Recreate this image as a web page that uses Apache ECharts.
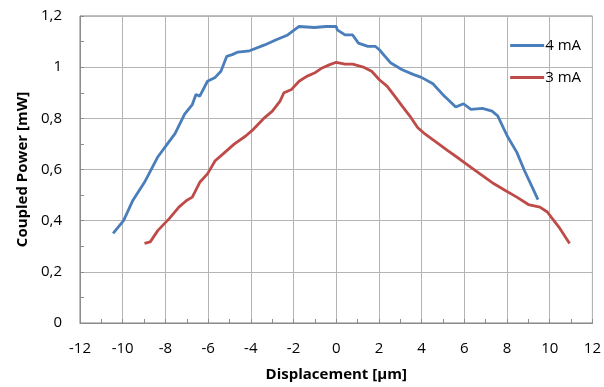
<!DOCTYPE html>
<html><head><meta charset="utf-8">
<script src="https://cdn.jsdelivr.net/npm/echarts@6/dist/echarts.min.js"></script>
<style>html,body{margin:0;padding:0;background:#fff}#c{width:604px;height:387px}</style>
</head><body><div id="c"></div>
<script>
const seriesNames = ["4 mA", "3 mA"];
const blueX = [-10.45,-9.96,-9.52,-8.98,-8.35,-7.82,-7.55,-7.1,-6.74,-6.57,-6.39,-6.03,-5.67,-5.4,-5.13,-4.87,-4.6,-4.06,-3.35,-2.81,-2.27,-1.74,-1.02,-0.48,0,0.05,0.41,0.77,1.04,1.48,1.84,2.02,2.56,3.09,3.63,3.99,4.53,5.06,5.6,5.96,6.31,6.85,7.3,7.57,8.01,8.46,8.82,9.18,9.45];
const blueY = [0.35,0.40,0.48,0.55,0.65,0.71,0.74,0.816,0.854,0.893,0.887,0.945,0.96,0.984,1.042,1.049,1.059,1.064,1.087,1.107,1.126,1.159,1.155,1.159,1.159,1.146,1.126,1.126,1.094,1.081,1.081,1.068,1.016,0.99,0.971,0.96,0.935,0.887,0.844,0.857,0.835,0.839,0.828,0.809,0.731,0.667,0.595,0.531,0.482];
const redX = [-8.98,-8.71,-8.35,-7.82,-7.37,-7.01,-6.74,-6.39,-6.03,-5.67,-5.31,-4.78,-4.24,-3.88,-3.35,-2.99,-2.63,-2.45,-2.09,-1.74,-1.38,-1.02,-0.66,-0.3,0,0.41,0.77,1.31,1.66,2.02,2.38,2.74,3.09,3.45,3.81,4.17,4.7,5.24,5.78,6.31,6.85,7.39,7.92,8.46,9.0,9.54,9.89,10.07,10.43,10.93];
const redY = [0.311,0.317,0.362,0.408,0.453,0.479,0.492,0.55,0.583,0.634,0.66,0.699,0.731,0.757,0.803,0.828,0.867,0.9,0.913,0.945,0.964,0.977,0.997,1.01,1.019,1.012,1.012,0.999,0.984,0.951,0.926,0.887,0.848,0.809,0.764,0.738,0.706,0.673,0.641,0.608,0.576,0.544,0.518,0.492,0.463,0.453,0.434,0.414,0.375,0.311];
const xTitle = "Displacement [µm]";
const yTitle = "Coupled Power [mW]";

const zip = (xs, ys) => xs.map((x, i) => [x, ys[i]]);
const chart = echarts.init(document.getElementById('c'), null, {renderer: 'canvas'});
const font = "'Open Sans', 'Liberation Sans', sans-serif";
chart.setOption({
  animation: false,
  backgroundColor: '#fff',
  grid: {left: 80, right: 8, top: 16, bottom: 64, show: true, borderColor: '#808080', borderWidth: 1},
  legend: {
    orient: 'vertical', right: 18, top: 33, itemWidth: 34, itemHeight: 3, itemGap: 17,
    icon: 'rect',
    textStyle: {fontFamily: font, fontSize: 15, color: '#000', padding: [0, 0, 0, -4]},
    data: seriesNames
  },
  xAxis: {
    type: 'value', min: -12, max: 12, interval: 2,
    name: xTitle, nameLocation: 'middle', nameGap: 44,
    nameTextStyle: {fontFamily: font, fontSize: 15, fontWeight: 'bold', color: '#000'},
    axisLine: {onZero: false, lineStyle: {color: '#8c8c8c'}},
    axisTick: {show: true, inside: true, length: 4, lineStyle: {color: '#8c8c8c'}},
    minorTick: {show: true, splitNumber: 2, length: 4, lineStyle: {color: '#8c8c8c'}},
    axisLabel: {fontFamily: font, fontSize: 15, color: '#000', margin: 18},
    splitLine: {show: true, lineStyle: {color: '#b4b4b4', width: 1}}
  },
  yAxis: {
    type: 'value', min: 0, max: 1.2, interval: 0.2,
    name: yTitle, nameLocation: 'middle', nameGap: 50,
    nameTextStyle: {fontFamily: font, fontSize: 15, fontWeight: 'bold', color: '#000'},
    axisLine: {show: true, onZero: false, lineStyle: {color: '#8c8c8c'}},
    axisTick: {show: true, inside: true, length: 4, lineStyle: {color: '#8c8c8c'}},
    minorTick: {show: true, splitNumber: 2, length: 4, lineStyle: {color: '#8c8c8c'}},
    axisLabel: {fontFamily: font, fontSize: 15, color: '#000', margin: 18,
      formatter: v => String(Math.round(v * 10) / 10).replace('.', ',')},
    splitLine: {show: true, lineStyle: {color: '#b4b4b4', width: 1}}
  },
  series: [
    {name: seriesNames[0], type: 'line', data: zip(blueX, blueY), showSymbol: false, symbol: 'none',
     lineStyle: {color: '#4a7ebb', width: 2.8}, itemStyle: {color: '#4a7ebb'}},
    {name: seriesNames[1], type: 'line', data: zip(redX, redY), showSymbol: false, symbol: 'none',
     lineStyle: {color: '#be4b48', width: 2.8}, itemStyle: {color: '#be4b48'}}
  ]
});
</script></body></html>
